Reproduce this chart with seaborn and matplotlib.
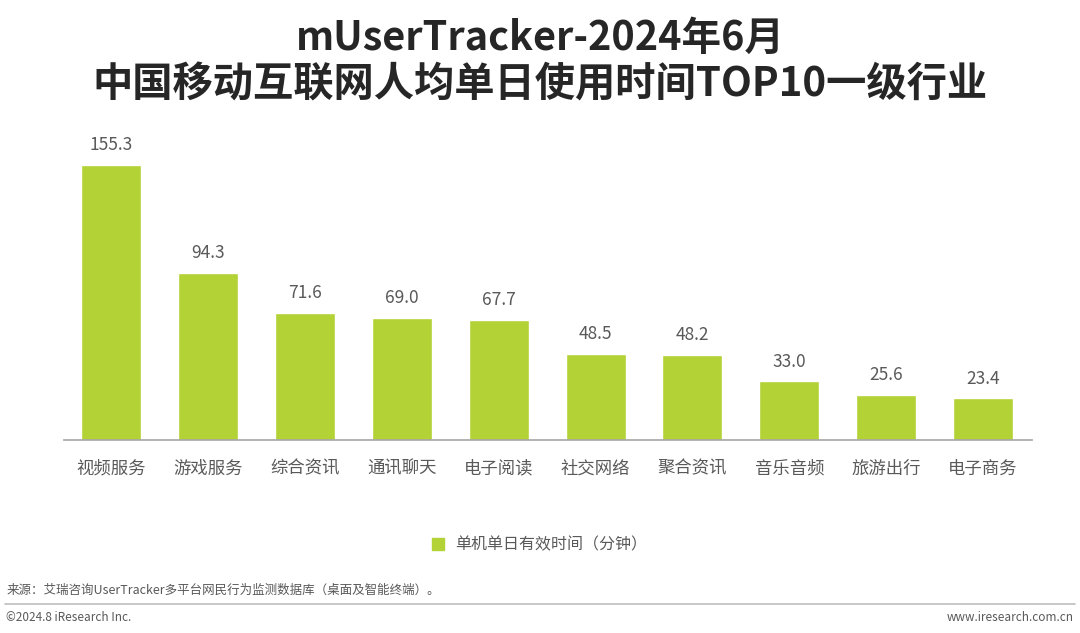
import matplotlib
matplotlib.use('Agg')
import matplotlib.pyplot as plt
import seaborn as sns
import pandas as pd
from matplotlib.lines import Line2D

# data
categories = ['视频服务', '游戏服务', '综合资讯', '通讯聊天', '电子阅读',
              '社交网络', '聚合资讯', '音乐音频', '旅游出行', '电子商务']
minutes = [155.3, 94.3, 71.6, 69.0, 67.7, 48.5, 48.2, 33.0, 25.6, 23.4]
series_name = '单机单日有效时间（分钟）'
title_lines = ['mUserTracker-2024年6月', '中国移动互联网人均单日使用时间TOP10一级行业']
source_text = '来源：艾瑞咨询UserTracker多平台网民行为监测数据库（桌面及智能终端）。'

bar_color = '#b2d235'
text_gray = '#595959'

sns.set_theme(style='white')
plt.rcParams['font.family'] = ['Noto Sans CJK SC', 'DejaVu Sans']

df = pd.DataFrame({'category': categories, 'minutes': minutes})

fig = plt.figure(figsize=(10.8, 6.33), dpi=100)
ax = fig.add_axes([0.059, 0.305, 0.897, 0.49])

sns.barplot(data=df, x='category', y='minutes', color=bar_color,
            width=0.62, saturation=1, ax=ax)

for i, v in enumerate(minutes):
    ax.text(i, v + 6, f'{v:.1f}', ha='center', va='bottom',
            fontsize=12.5, color=text_gray)

ax.set_ylim(0, 175)
ax.set_xlim(-0.49, 9.51)
ax.set_xlabel('')
ax.set_ylabel('')
ax.set_yticks([])
for side in ['top', 'right', 'left']:
    ax.spines[side].set_visible(False)
ax.spines['bottom'].set_color('#a6a6a6')
ax.spines['bottom'].set_linewidth(1.2)
ax.tick_params(axis='x', length=0, pad=14, labelsize=12.5, colors=text_gray)

# title
fig.text(0.5, 0.94, title_lines[0], ha='center', va='center',
         fontsize=28.5, fontweight='bold', color='#262626')
fig.text(0.5, 0.866, title_lines[1], ha='center', va='center',
         fontsize=29, fontweight='bold', color='#262626')

# legend
handle = Line2D([], [], marker='s', linestyle='none', color=bar_color, markersize=9)
fig.legend([handle], [series_name], loc='center', bbox_to_anchor=(0.495, 0.139),
           frameon=False, fontsize=11.5, labelcolor=text_gray,
           handletextpad=0.1, borderaxespad=0)

# source and footer
fig.text(0.006, 0.068, source_text, ha='left', va='center', fontsize=9, color=text_gray)
fig.add_artist(Line2D([0.005, 0.995], [0.046, 0.046], color='#bfbfbf', linewidth=1.2,
                      transform=fig.transFigure))
fig.text(0.006, 0.025, '©2024.8 iResearch Inc.', ha='left', va='center',
         fontsize=8.5, color=text_gray)
fig.text(0.994, 0.025, 'www.iresearch.com.cn', ha='right', va='center',
         fontsize=8.5, color=text_gray)

fig.savefig('out.png', dpi=100, facecolor='white')
